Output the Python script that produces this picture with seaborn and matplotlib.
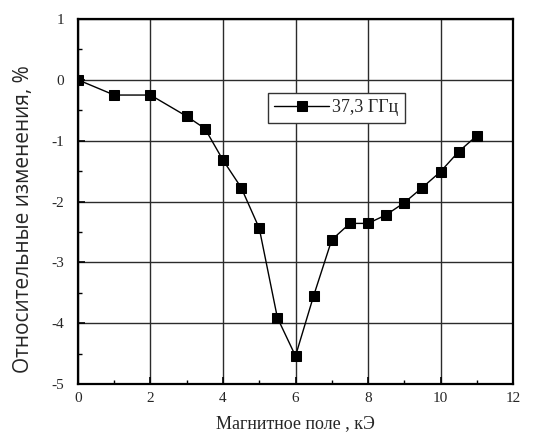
import numpy as np
import pandas as pd
import matplotlib
matplotlib.use("Agg")
import matplotlib.pyplot as plt
import seaborn as sns
from matplotlib.ticker import MultipleLocator

# data
field_kOe = [0, 1, 2, 3, 3.5, 4, 4.5, 5, 5.5, 6, 6.5, 7, 7.5, 8, 8.5, 9, 9.5, 10, 10.5, 11]
rel_change = [0.0, -0.25, -0.25, -0.60, -0.80, -1.32, -1.77, -2.44, -3.91, -4.54,
              -3.55, -2.63, -2.36, -2.36, -2.22, -2.02, -1.77, -1.51, -1.18, -0.92]
series_label = "37,3 ГГц"

df = pd.DataFrame({"field": field_kOe, "change": rel_change, "series": series_label})

sns.set_style("ticks")
plt.rcParams["font.family"] = ["Liberation Serif", "DejaVu Serif"]
plt.rcParams["axes.unicode_minus"] = False

fig = plt.figure(figsize=(5.39, 4.37), dpi=100)
ax = fig.add_axes([0.1447, 0.1213, 0.8071, 0.8352])

sns.lineplot(data=df, x="field", y="change", hue="series", palette=["black"],
             marker="s", markersize=7.5, markeredgecolor="black", linewidth=1.0,
             ax=ax, zorder=3)

ax.set_xlim(0, 12)
ax.set_ylim(-5, 1)
ax.xaxis.set_major_locator(MultipleLocator(2))
ax.xaxis.set_minor_locator(MultipleLocator(1))
ax.yaxis.set_major_locator(MultipleLocator(1))
ax.yaxis.set_minor_locator(MultipleLocator(0.5))
ax.grid(True, which="major", color="#2b2b2b", linewidth=1.0)
ax.tick_params(which="both", direction="in", color="black")
ax.tick_params(which="major", length=5, width=1.2, labelsize=11)
ax.tick_params(axis="x", which="major", pad=6)
ax.tick_params(axis="y", which="major", pad=10)
ax.tick_params(which="minor", length=3, width=1.0)
for s in ax.spines.values():
    s.set_linewidth(1.6)
    s.set_color("black")

ax.set_xlabel("Магнитное поле , кЭ", fontsize=13)
ax.xaxis.set_label_coords(0.5, -0.085)
ax.set_ylabel("Относительные изменения, %", fontsize=15,
              family=["Open Sans", "DejaVu Sans"])
ax.yaxis.set_label_coords(-0.102, 0.452)

leg = ax.legend(loc="upper left", bbox_to_anchor=(0.437, 0.797), borderaxespad=0,
                fancybox=False, framealpha=1, edgecolor="#333333", fontsize=13,
                handlelength=3.0, handletextpad=0.2, borderpad=0.35)
leg.get_frame().set_linewidth(1.0)

fig.savefig("out.png", dpi=100)
